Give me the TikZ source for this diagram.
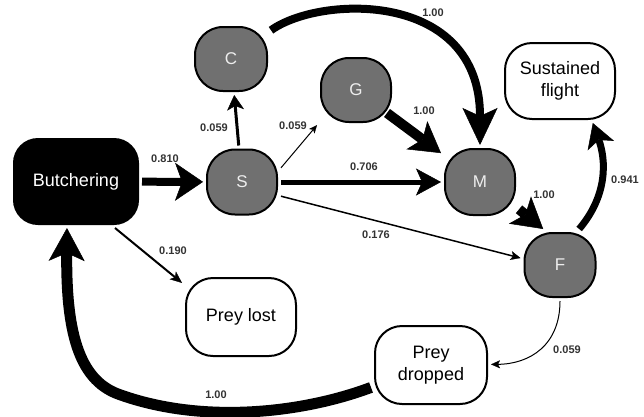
\documentclass[tikz,border=0pt]{standalone}
\usepackage{fontspec}
\setmainfont{Liberation Sans}
\usetikzlibrary{arrows.meta,calc}
\definecolor{nodegray}{HTML}{707070}
\definecolor{lettergray}{HTML}{EEEEEE}
\definecolor{labelgray}{HTML}{333333}
\begin{document}
\begin{tikzpicture}[x=1pt,y=-1pt,
  statebox/.style={draw=black,line width=2pt,fill=nodegray,rounded corners=28pt,
    minimum width=70pt,minimum height=65pt,inner sep=0pt,outer sep=4pt,
    text=lettergray,font=\fontsize{17}{20}\selectfont},
  endbox/.style={draw=black,line width=2pt,fill=white,rounded corners=27pt,
    minimum width=110pt,minimum height=77pt,inner sep=0pt,outer sep=4pt,
    align=center,font=\fontsize{18}{22}\selectfont},
  startbox/.style={draw=black,line width=2pt,fill=black,rounded corners=24pt,
    minimum width=124pt,minimum height=85pt,inner sep=0pt,outer sep=4pt,
    text=white,font=\fontsize{18}{22}\selectfont},
  problabel/.style={text=labelgray,font=\fontsize{11}{13}\selectfont\bfseries,inner sep=0pt},
  conn/.style={draw=black,line cap=butt}
]
\useasboundingbox (0,0) rectangle (644,416);

% nodes
\node[startbox] (B) at (76,181.5) {Butchering};
\node[statebox] (S) at (242,182) {S};
\node[statebox,minimum width=72pt,minimum height=64pt] (C) at (231,59) {C};
\node[statebox,minimum height=64pt] (G) at (356,90) {G};
\node[statebox,minimum height=66pt] (M) at (480,182) {M};
\node[statebox,minimum width=71pt,minimum height=64pt] (F) at (560,265) {F};
\node[endbox,minimum height=76pt] (SF) at (560,81) {Sustained\\flight};
\node[endbox,minimum height=78pt] (PL) at (241,317) {Prey lost};
\node[endbox,minimum width=112pt,minimum height=78pt] (PD) at (431,365) {Prey\\dropped};

% connectors
\draw[conn,line width=8pt,-{Stealth[length=28pt,width=38pt,inset=7pt,line width=0.5pt]}] (B) -- (S);
\draw[conn,line width=3pt,-{Stealth[length=15pt,width=17pt,inset=4pt,line width=0.5pt]}] (S) -- (C);
\draw[conn,line width=1pt,-{Stealth[length=8pt,width=7pt,inset=2pt,line width=0.3pt]}] (S.20) -- (G.222);
\draw[conn,line width=5pt,-{Stealth[length=25pt,width=27pt,inset=6pt,line width=0.5pt]}] (S) -- (M);
\draw[conn,line width=1.5pt,-{Stealth[length=10pt,width=9pt,inset=2.5pt,line width=0.3pt]}] (S.-20) -- (F.170);
\draw[conn,line width=8pt,-{Stealth[length=37pt,width=35pt,inset=8pt,line width=0.5pt]}] (C) .. controls (320,-5) and (480,-10) .. (M);
\draw[conn,line width=10pt,-{Stealth[length=30pt,width=35pt,inset=7pt,line width=0.5pt]}] ($(G)!0.25!(M)$) -- (M);
\draw[conn,line width=10pt,-{Stealth[length=30pt,width=35pt,inset=7pt,line width=0.5pt]}] (M.-35) -- (F.115);
\draw[conn,line width=7pt,-{Stealth[length=24pt,width=28pt,inset=6pt,line width=0.5pt]}] (F.62) .. controls (608,195) and (606,160) .. (SF.-52);
\draw[conn,line width=1pt,-{Stealth[length=9pt,width=8pt,inset=2pt,line width=0.3pt]}] (F) .. controls (560,345) and (530,364) .. (PD);
\draw[conn,line width=11pt,-{Stealth[length=33pt,width=36pt,inset=8pt,line width=0.5pt]}] (PD) .. controls (300,414) and (200,424) .. (118,394) .. controls (78,379) and (66,330) .. (B.-101);
\draw[conn,line width=2pt,-{Stealth[length=12pt,width=10pt,inset=3pt,line width=0.3pt]}] (B.-50) -- (PL.150);

% labels
\node[problabel] (l1) at (165,159) {0.810};
\node[problabel] (l2) at (214,128) {0.059};
\node[problabel] (l3) at (293,126) {0.059};
\node[problabel] (l4) at (364,167) {0.706};
\node[problabel] (l5) at (376,235) {0.176};
\node[problabel] (l6) at (433,13) {1.00};
\node[problabel] (l7) at (424,111) {1.00};
\node[problabel] (l8) at (544,195) {1.00};
\node[problabel] (l9) at (625,180) {0.941};
\node[problabel] (l10) at (173,251) {0.190};
\node[problabel] (l11) at (216,395) {1.00};
\node[problabel] (l12) at (567,350) {0.059};
\end{tikzpicture}
\end{document}
